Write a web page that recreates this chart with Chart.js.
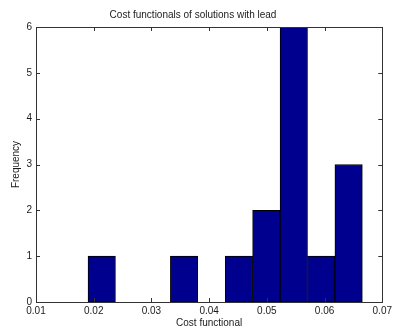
<!DOCTYPE html>
<html>
<head>
<meta charset="utf-8">
<script src="https://cdn.jsdelivr.net/npm/chart.js@4.4.0/dist/chart.umd.min.js"></script>
<style>
  html, body { margin: 0; padding: 0; background: #fff; }
  #wrap { width: 395px; height: 331px; }
</style>
</head>
<body>
<div id="wrap"><canvas id="hist"></canvas></div>
<script>
// Histogram bins (centres) and counts
const binCenters = [0.02139, 0.02615, 0.0309, 0.03566, 0.04041, 0.04516, 0.04991, 0.05467, 0.05942, 0.06417];
const counts = [1, 0, 0, 1, 0, 1, 2, 6, 1, 3];
const xTicks = [0.01, 0.02, 0.03, 0.04, 0.05, 0.06, 0.07];
const yTicks = [0, 1, 2, 3, 4, 5, 6];

const axisColor = '#333333';
const textColor = '#1a1a1a';
const fontSpec = { family: 'Liberation Sans, Arial, sans-serif', size: 10, weight: 'normal' };

// box around the axes plus inward tick marks on all four sides
const boxPlugin = {
  id: 'boxAxes',
  afterDraw(chart) {
    const { ctx, chartArea: a, scales } = chart;
    const len = 4;
    ctx.save();
    ctx.strokeStyle = axisColor;
    ctx.lineWidth = 1;
    ctx.strokeRect(Math.round(a.left) + 0.5, Math.round(a.top) + 0.5,
      Math.round(a.right - a.left), Math.round(a.bottom - a.top));
    ctx.beginPath();
    xTicks.forEach(v => {
      const px = Math.round(scales.x.getPixelForValue(v)) + 0.5;
      ctx.moveTo(px, a.bottom); ctx.lineTo(px, a.bottom - len);
      ctx.moveTo(px, a.top); ctx.lineTo(px, a.top + len);
    });
    yTicks.forEach(v => {
      const py = Math.round(scales.y.getPixelForValue(v)) + 0.5;
      ctx.moveTo(a.left, py); ctx.lineTo(a.left + len, py);
      ctx.moveTo(a.right, py); ctx.lineTo(a.right - len, py);
    });
    ctx.stroke();
    ctx.restore();
  }
};

new Chart(document.getElementById('hist'), {
  type: 'bar',
  data: {
    datasets: [{
      data: binCenters.map((x, i) => ({ x: x, y: counts[i] })),
      backgroundColor: '#00008f',
      borderColor: '#000000',
      borderWidth: 1,
      borderSkipped: false,
      barPercentage: 1,
      categoryPercentage: 1
    }]
  },
  options: {
    responsive: true,
    maintainAspectRatio: false,
    animation: false,
    layout: { padding: { left: 0, right: 9, top: 0, bottom: 0 } },
    plugins: {
      legend: { display: false },
      tooltip: { enabled: false },
      title: {
        display: true,
        text: 'Cost functionals of solutions with lead',
        color: textColor,
        font: fontSpec,
        padding: { top: 9, bottom: 6 }
      }
    },
    scales: {
      x: {
        type: 'linear',
        min: 0.01,
        max: 0.07,
        offset: false,
        grid: { display: false, offset: false, drawTicks: false },
        border: { display: false },
        afterBuildTicks: s => { s.ticks = xTicks.map(v => ({ value: v })); },
        afterFit: s => { s.height = 29; },
        ticks: {
          color: textColor,
          font: fontSpec,
          padding: 3,
          maxRotation: 0,
          autoSkip: false,
          callback: v => v.toFixed(2)
        },
        title: {
          display: true,
          text: 'Cost functional',
          color: textColor,
          font: fontSpec,
          padding: { top: 0, bottom: 2 }
        }
      },
      y: {
        min: 0,
        max: 6,
        grid: { display: false, drawTicks: false },
        border: { display: false },
        afterBuildTicks: s => { s.ticks = yTicks.map(v => ({ value: v })); },
        afterFit: s => { s.width = 36; },
        ticks: { color: textColor, font: fontSpec, padding: 4 },
        title: {
          display: true,
          text: 'Frequency',
          color: textColor,
          font: fontSpec,
          padding: { top: 10, bottom: 0 }
        }
      }
    }
  },
  plugins: [boxPlugin]
});
</script>
</body>
</html>
